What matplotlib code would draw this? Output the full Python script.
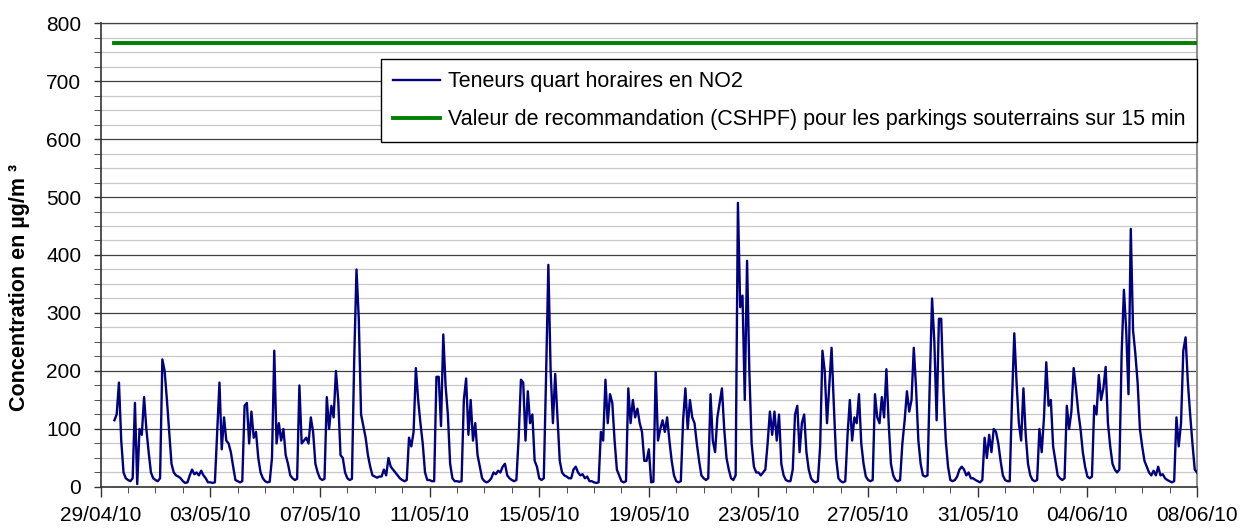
import numpy as np
import matplotlib
matplotlib.use("Agg")
import matplotlib.pyplot as plt
import matplotlib.dates as mdates
from matplotlib.ticker import MultipleLocator, FixedLocator

plt.rcParams['font.family'] = ['Liberation Sans', 'DejaVu Sans']

# NO2 readings (µg/m3), read every 2 hours from the chart
# 29/04 from 12h to 22h
first_day = [115, 125, 180, 80, 25, 15]
# then full days 0h, 2h, ... 22h
days = [
    [12, 10, 15, 145, 5, 100, 90, 155, 100, 60, 25, 15],     # 30/04
    [12, 10, 15, 220, 200, 150, 95, 40, 25, 20, 18, 15],     # 01/05
    [10, 7, 8, 20, 30, 22, 25, 20, 28, 20, 15, 8],           # 02/05
    [8, 7, 8, 95, 180, 65, 120, 80, 75, 60, 35, 12],         # 03/05
    [10, 8, 10, 140, 145, 75, 130, 85, 95, 50, 25, 15],      # 04/05
    [10, 8, 9, 50, 235, 75, 110, 80, 100, 55, 40, 20],       # 05/05
    [15, 12, 14, 175, 75, 80, 85, 75, 120, 95, 40, 25],      # 06/05
    [15, 12, 14, 155, 100, 140, 120, 200, 150, 55, 50, 25],  # 07/05
    [15, 12, 14, 220, 375, 290, 125, 105, 85, 55, 35, 20],   # 08/05
    [18, 16, 18, 18, 30, 20, 50, 35, 30, 25, 20, 15],        # 09/05
    [12, 10, 12, 85, 70, 95, 205, 150, 110, 75, 25, 12],     # 10/05
    [12, 10, 10, 190, 190, 105, 263, 175, 125, 40, 15, 10],  # 11/05
    [10, 9, 10, 150, 187, 90, 150, 80, 110, 55, 35, 15],     # 12/05
    [10, 8, 10, 15, 25, 22, 28, 25, 35, 40, 20, 15],         # 13/05
    [12, 10, 12, 85, 185, 180, 80, 165, 110, 125, 45, 35],   # 14/05
    [15, 12, 15, 190, 383, 200, 110, 195, 120, 45, 25, 20],  # 15/05
    [18, 15, 15, 30, 35, 25, 20, 22, 15, 18, 10, 10],        # 16/05
    [8, 7, 8, 95, 80, 185, 110, 160, 145, 80, 30, 20],       # 17/05
    [10, 8, 10, 170, 110, 150, 120, 135, 110, 95, 45, 45],   # 18/05
    [65, 8, 9, 198, 80, 100, 115, 95, 120, 80, 45, 20],      # 19/05
    [10, 8, 10, 115, 170, 100, 150, 120, 110, 75, 45, 20],   # 20/05
    [15, 12, 15, 160, 80, 60, 120, 145, 170, 100, 50, 30],   # 21/05
    [15, 12, 20, 490, 310, 330, 150, 390, 200, 75, 35, 25],  # 22/05
    [25, 20, 25, 30, 75, 130, 90, 130, 80, 125, 40, 20],     # 23/05
    [12, 10, 10, 30, 125, 140, 60, 110, 125, 60, 30, 15],    # 24/05
    [10, 8, 10, 70, 235, 200, 110, 175, 240, 140, 50, 15],   # 25/05
    [10, 8, 10, 90, 150, 80, 120, 110, 160, 75, 40, 18],     # 26/05
    [12, 10, 12, 160, 120, 110, 155, 120, 203, 110, 40, 20], # 27/05
    [12, 10, 12, 75, 115, 165, 130, 150, 240, 170, 80, 40],  # 28/05
    [20, 18, 20, 180, 325, 250, 115, 290, 290, 165, 80, 35], # 29/05
    [12, 10, 12, 18, 30, 35, 30, 20, 25, 15, 15, 12],        # 30/05
    [10, 8, 12, 85, 50, 90, 60, 100, 95, 75, 45, 20],        # 31/05
    [12, 10, 10, 150, 265, 180, 110, 80, 170, 90, 40, 20],   # 01/06
    [12, 10, 12, 100, 60, 120, 215, 140, 150, 70, 45, 20],   # 02/06
    [15, 12, 15, 140, 100, 130, 205, 170, 130, 100, 60, 35], # 03/06
    [18, 15, 18, 140, 125, 193, 150, 170, 207, 110, 70, 40], # 04/06
    [30, 25, 30, 230, 340, 270, 160, 445, 270, 230, 180, 100],  # 05/06
    [70, 45, 35, 25, 20, 28, 20, 35, 20, 22, 15, 12],        # 06/06
    [10, 8, 10, 120, 70, 110, 235, 258, 180, 125, 75, 30],   # 07/06
]
last_value = 25  # 08/06 0h

seuil = 765  # valeur de recommandation CSHPF

values = np.array(first_day + sum(days, []) + [last_value], dtype=float)
times = np.datetime64('2010-04-29T12:00') + np.arange(len(values)) * np.timedelta64(2, 'h')
x = mdates.date2num(times)

fig = plt.figure(figsize=(12.43, 5.28), dpi=100)
ax = fig.add_axes([0.081, 0.0777, 0.882, 0.8787])

ax.plot(x, values, color='#000080', linewidth=1.7, label='Teneurs quart horaires en NO2', zorder=3)
ax.plot([x[0], x[-1]], [seuil, seuil], color='#008000', linewidth=2.8,
        label='Valeur de recommandation (CSHPF) pour les parkings souterrains sur 15 min', zorder=3)

# axes
ax.set_ylim(0, 800)
ax.yaxis.set_major_locator(MultipleLocator(100))
ax.yaxis.set_minor_locator(MultipleLocator(25))
ax.set_xlim(mdates.date2num(np.datetime64('2010-04-29')), mdates.date2num(np.datetime64('2010-06-08')))
major = mdates.date2num(np.arange(np.datetime64('2010-04-29'), np.datetime64('2010-06-09'), np.timedelta64(4, 'D')))
ax.xaxis.set_major_locator(FixedLocator(major))
ax.xaxis.set_minor_locator(MultipleLocator(1))
ax.xaxis.set_major_formatter(mdates.DateFormatter('%d/%m/%y'))

ax.grid(which='major', axis='y', color='#404040', linewidth=0.9, zorder=1)
ax.grid(which='minor', axis='y', color='#c8c8c8', linewidth=0.9, zorder=0)
ax.set_axisbelow(True)

ax.tick_params(axis='both', which='major', labelsize=15, color='#333333', width=1)
ax.tick_params(axis='y', which='major', length=5, pad=9)
ax.tick_params(axis='y', which='minor', length=5, color='#333333')
ax.tick_params(axis='x', which='major', length=7, pad=7)
ax.tick_params(axis='x', which='minor', length=4, color='#333333')

for s in ['left', 'bottom']:
    ax.spines[s].set_color('#333333')
    ax.spines[s].set_linewidth(1.2)
ax.spines['top'].set_color('#404040')
ax.spines['top'].set_linewidth(0.9)
ax.spines['right'].set_color('#909090')
ax.spines['right'].set_linewidth(1.5)

fig.text(0.016, 0.456, 'Concentration en µg/m ³', rotation=90, fontsize=15.5,
         fontweight='bold', ha='center', va='center')

leg = ax.legend(loc='upper left', bbox_to_anchor=(0.2557, 0.922), fontsize=15.5,
                frameon=True, fancybox=False, edgecolor='black', framealpha=1,
                handlelength=2.2, handletextpad=0.35, labelspacing=0.8,
                borderpad=0.55, borderaxespad=0)
leg.get_frame().set_linewidth(1.0)

fig.savefig('out.png', dpi=100)
